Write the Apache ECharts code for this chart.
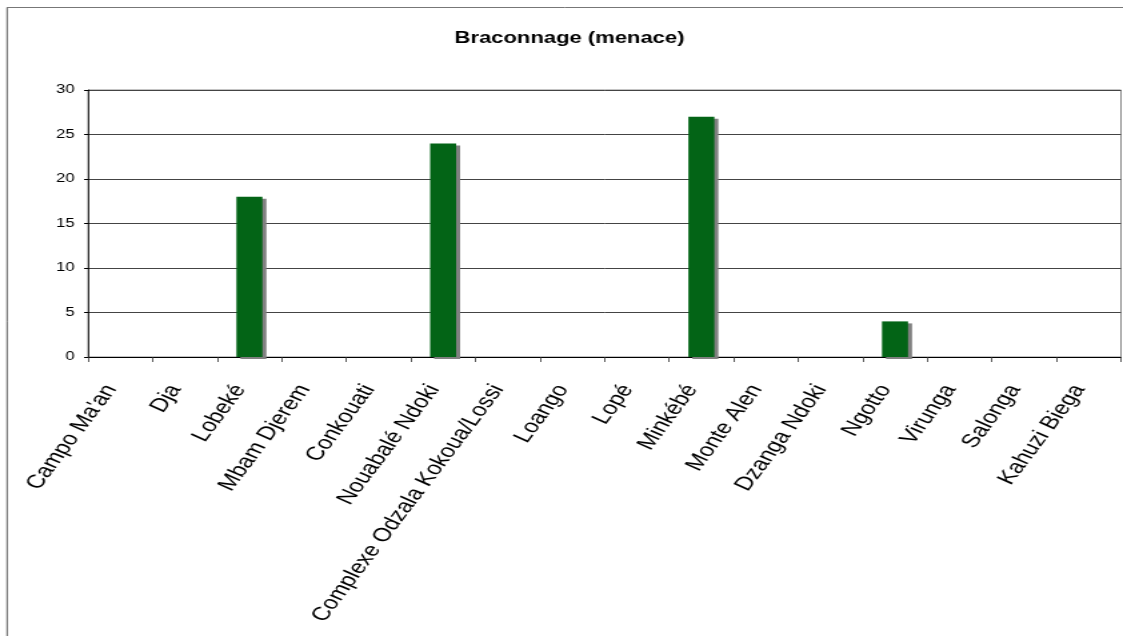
<!DOCTYPE html>
<html>
<head>
<meta charset="utf-8">
<script src="https://cdn.jsdelivr.net/npm/echarts@6/dist/echarts.min.js"></script>
<style>
html,body{margin:0;padding:0;background:#fff;overflow:hidden;}
#wrap{width:1123px;height:636px;overflow:hidden;}
#chart{width:842px;height:636px;transform:scaleX(1.3337);transform-origin:0 0;}
</style>
</head>
<body>
<div id="wrap"><div id="chart"></div></div>
<script>
const categories = ["Campo Ma'an", "Dja", "Lobeké", "Mbam Djerem", "Conkouati", "Nouabalé Ndoki", "Complexe Odzala Kokoua/Lossi", "Loango", "Lopé", "Minkébé", "Monte Alen", "Dzanga Ndoki", "Ngotto", "Virunga", "Salonga", "Kahuzi Biega"];
const values = [0, 0, 18, 0, 0, 24, 0, 0, 0, 27, 0, 0, 4, 0, 0, 0];
const yTicks = [0, 5, 10, 15, 20, 25, 30];
const titleText = "Braconnage (menace)";

const chart = echarts.init(document.getElementById('chart'), null, {renderer: 'canvas', width: 842, height: 636});
chart.setOption({
  animation: false,
  backgroundColor: '#ffffff',
  title: {
    text: titleText,
    left: 422, top: 25, textAlign: 'center',
    textStyle: {fontFamily: 'Liberation Sans', fontWeight: 'bold', fontSize: 16.5, color: '#000'}
  },
  graphic: [
    {type: 'line', shape: {x1: 5.3, y1: 7.5, x2: 842, y2: 7.5}, style: {stroke: '#777', lineWidth: 1}},
    {type: 'line', shape: {x1: 5.3, y1: 7.5, x2: 5.3, y2: 636}, style: {stroke: '#333', lineWidth: 0.8}}
  ],
  grid: {
    left: 66, right: 1.5, top: 90, bottom: 279,
    show: true, borderColor: '#888', borderWidth: 1, backgroundColor: 'transparent'
  },
  xAxis: {
    type: 'category',
    data: categories,
    boundaryGap: true,
    axisLine: {lineStyle: {color: '#000', width: 1}},
    axisTick: {show: true, alignWithLabel: false, length: 5, lineStyle: {color: '#333', width: 0.8}},
    axisLabel: {
      interval: 0, rotate: 60, margin: 17, padding: [0, 14, 0, 0],
      fontFamily: 'Liberation Sans', fontSize: 19, color: '#000'
    }
  },
  yAxis: {
    type: 'value',
    min: yTicks[0], max: yTicks[yTicks.length - 1], interval: 5,
    axisLine: {show: true, lineStyle: {color: '#000', width: 0.8}},
    axisTick: {show: true, length: 3, lineStyle: {color: '#000'}},
    axisLabel: {margin: 10, fontFamily: 'Liberation Sans', fontSize: 12.5, color: '#000'},
    splitLine: {show: true, lineStyle: {color: '#444', width: 1}}
  },
  series: [{
    type: 'bar',
    data: values,
    barWidth: 19.5,
    itemStyle: {
      color: '#036416',
      shadowColor: '#808080', shadowBlur: 0, shadowOffsetX: 3, shadowOffsetY: 2
    }
  }]
});
</script>
</body>
</html>
